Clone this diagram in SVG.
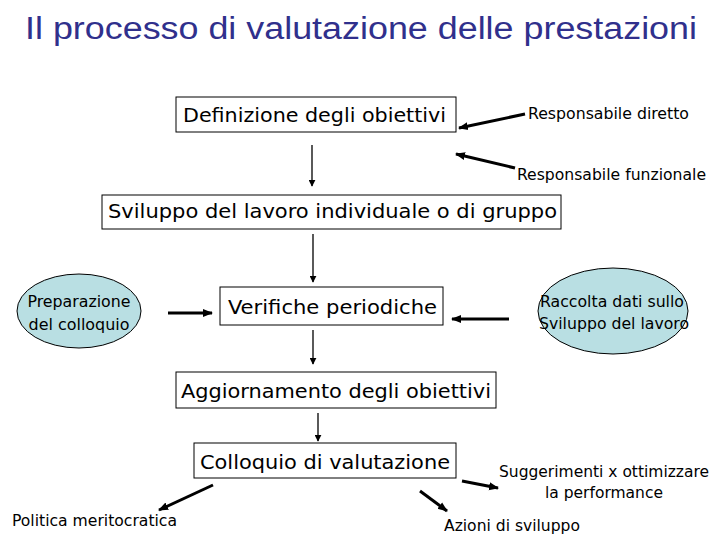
<svg xmlns="http://www.w3.org/2000/svg" width="720" height="540" viewBox="0 0 720 540">
<style>
.t{font-family:"DejaVu Sans Condensed","DejaVu Sans",sans-serif;fill:#000}
.b{font-size:20px}
.s{font-size:15px}
.box{fill:#fff;stroke:#000;stroke-width:1}
.ell{fill:#b9dfe3;stroke:#000;stroke-width:1}
.thin{stroke:#000;stroke-width:1.3;fill:none}
.thick{stroke:#000;stroke-width:3;fill:none}
</style>
<defs>
<marker id="ah" viewBox="0 0 10 10" refX="9" refY="5" markerWidth="7" markerHeight="7" orient="auto" markerUnits="userSpaceOnUse"><path d="M0,0L10,5L0,10z" fill="#000"/></marker>
<marker id="ahk" viewBox="0 0 10 10" refX="9" refY="5" markerWidth="10" markerHeight="10" orient="auto" markerUnits="userSpaceOnUse"><path d="M0,1L10,5L0,9z" fill="#000"/></marker>
</defs>
<rect width="720" height="540" fill="#fff"/>
<text x="361" y="39" text-anchor="middle" font-family="'Liberation Sans',Arial,sans-serif" font-size="31" fill="#30308c" textLength="672" lengthAdjust="spacingAndGlyphs">Il processo di valutazione delle prestazioni</text>

<g id="n1"><rect class="box" x="176" y="97" width="280" height="35"/><text class="t b" x="183" y="122" textLength="263" lengthAdjust="spacingAndGlyphs">Definizione degli obiettivi</text></g>
<g id="n_rd"><text class="t s" x="528" y="119" textLength="161" lengthAdjust="spacingAndGlyphs">Responsabile diretto</text></g>
<g id="n_rf"><text class="t s" x="517" y="180" textLength="189" lengthAdjust="spacingAndGlyphs">Responsabile funzionale</text></g>
<g id="n2"><rect class="box" x="102" y="195" width="459" height="34"/><text class="t b" x="108" y="218" textLength="449" lengthAdjust="spacingAndGlyphs">Sviluppo del lavoro individuale o di gruppo</text></g>
<g id="n_prep"><ellipse class="ell" cx="79" cy="311" rx="62" ry="37"/><text class="t s" x="79" y="307" text-anchor="middle" textLength="103" lengthAdjust="spacingAndGlyphs">Preparazione</text><text class="t s" x="79" y="330" text-anchor="middle" textLength="101" lengthAdjust="spacingAndGlyphs">del colloquio</text></g>
<g id="n3"><rect class="box" x="220" y="287" width="223" height="38"/><text class="t b" x="228" y="314" textLength="209" lengthAdjust="spacingAndGlyphs">Verifiche periodiche</text></g>
<g id="n_racc"><ellipse class="ell" cx="613" cy="311" rx="75" ry="43"/><text class="t s" x="612" y="307" text-anchor="middle" textLength="144" lengthAdjust="spacingAndGlyphs">Raccolta dati sullo</text><text class="t s" x="614" y="329" text-anchor="middle" textLength="150" lengthAdjust="spacingAndGlyphs">Sviluppo del lavoro</text></g>
<g id="n4"><rect class="box" x="176" y="372" width="320" height="36"/><text class="t b" x="181" y="398" textLength="310" lengthAdjust="spacingAndGlyphs">Aggiornamento degli obiettivi</text></g>
<g id="n5"><rect class="box" x="194" y="443" width="262" height="35"/><text class="t b" x="200" y="469" textLength="250" lengthAdjust="spacingAndGlyphs">Colloquio di valutazione</text></g>
<g id="n_sugg"><text class="t s" x="604" y="477" text-anchor="middle" textLength="210" lengthAdjust="spacingAndGlyphs">Suggerimenti x ottimizzare</text><text class="t s" x="604" y="498" text-anchor="middle" textLength="118" lengthAdjust="spacingAndGlyphs">la performance</text></g>
<g id="n_pol"><text class="t s" x="12" y="526" textLength="165" lengthAdjust="spacingAndGlyphs">Politica meritocratica</text></g>
<g id="n_az"><text class="t s" x="444" y="531" textLength="136" lengthAdjust="spacingAndGlyphs">Azioni di sviluppo</text></g>

<g id="connectors">
<line class="thin" x1="312" y1="145" x2="312" y2="186" marker-end="url(#ah)"/>
<line class="thin" x1="313" y1="234" x2="313" y2="282" marker-end="url(#ah)"/>
<line class="thin" x1="313" y1="330" x2="313" y2="364" marker-end="url(#ah)"/>
<line class="thin" x1="318" y1="413" x2="318" y2="441" marker-end="url(#ah)"/>
<line class="thick" x1="525" y1="114" x2="459" y2="128" marker-end="url(#ahk)"/>
<line class="thick" x1="515" y1="168" x2="456" y2="154" marker-end="url(#ahk)"/>
<line class="thick" x1="168" y1="313" x2="212" y2="313" marker-end="url(#ahk)"/>
<line class="thick" x1="509" y1="319" x2="452" y2="319" marker-end="url(#ahk)"/>
<line class="thick" x1="213" y1="485" x2="159" y2="510" marker-end="url(#ahk)"/>
<line class="thick" x1="462" y1="481" x2="498" y2="488" marker-end="url(#ahk)"/>
<line class="thick" x1="420" y1="491" x2="447" y2="511" marker-end="url(#ahk)"/>
</g>
</svg>
